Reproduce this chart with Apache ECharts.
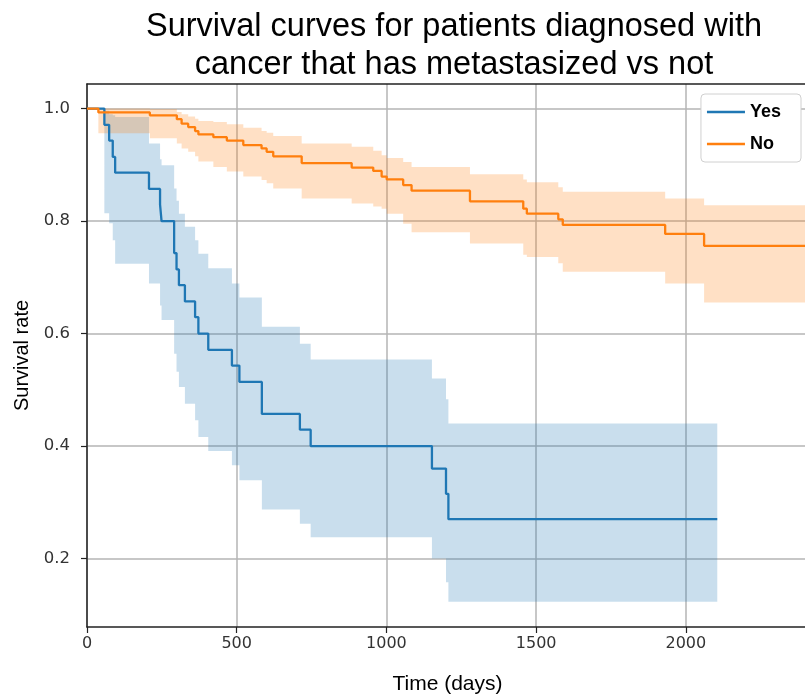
<!DOCTYPE html>
<html>
<head>
<meta charset="utf-8">
<script src="https://cdn.jsdelivr.net/npm/echarts@6/dist/echarts.min.js"></script>
<style>
  html, body { margin: 0; padding: 0; background: #ffffff; }
  #chart { width: 805px; height: 694px; }
</style>
</head>
<body>
<div id="chart"></div>
<script>
// Kaplan-Meier estimates (days, survival probability) with 95% confidence bounds

// Metastasized: Yes
const yesTime  = [0, 58, 74, 86, 94, 207, 244, 249, 291, 299, 307, 327, 361, 372, 405, 484, 509, 584, 711, 747, 1152, 1199, 1207, 2105];
const yesSurv  = [1.0, 0.971, 0.943, 0.914, 0.886, 0.857, 0.829, 0.8, 0.743, 0.714, 0.686, 0.657, 0.629, 0.6, 0.571, 0.543, 0.514, 0.457, 0.429, 0.4, 0.36, 0.315, 0.27, 0.27];
const yesUpper = [1.0, 0.996, 0.99, 0.988, 0.985, 0.938, 0.91, 0.899, 0.858, 0.836, 0.813, 0.79, 0.766, 0.742, 0.716, 0.689, 0.664, 0.612, 0.582, 0.554, 0.52, 0.483, 0.44, 0.44];
const yesLower = [1.0, 0.814, 0.796, 0.766, 0.724, 0.689, 0.65, 0.624, 0.564, 0.532, 0.505, 0.475, 0.446, 0.416, 0.391, 0.366, 0.339, 0.287, 0.262, 0.238, 0.2, 0.158, 0.123, 0.123];

// Metastasized: No
const noTime  = [0, 38, 210, 300, 316, 338, 361, 372, 422, 467, 522, 583, 600, 622, 717, 884, 956, 984, 1001, 1056, 1084, 1279, 1457, 1469, 1574, 1589, 1931, 2061, 2408];
const noSurv  = [1.0, 0.993, 0.988, 0.981, 0.973, 0.967, 0.96, 0.954, 0.949, 0.943, 0.935, 0.929, 0.923, 0.915, 0.903, 0.895, 0.889, 0.879, 0.874, 0.864, 0.854, 0.835, 0.822, 0.813, 0.803, 0.793, 0.777, 0.756, 0.756];
const noUpper = [1.0, 1.0, 0.999, 0.994, 0.99, 0.986, 0.982, 0.978, 0.976, 0.972, 0.966, 0.96, 0.957, 0.951, 0.938, 0.932, 0.925, 0.917, 0.912, 0.905, 0.896, 0.883, 0.874, 0.869, 0.86, 0.852, 0.84, 0.828, 0.828];
const noLower = [1.0, 0.956, 0.947, 0.938, 0.929, 0.923, 0.915, 0.906, 0.896, 0.888, 0.879, 0.873, 0.867, 0.858, 0.84, 0.831, 0.826, 0.822, 0.813, 0.795, 0.78, 0.76, 0.74, 0.736, 0.725, 0.71, 0.689, 0.655, 0.655];

// Axis ticks
const xTicks = [0, 500, 1000, 1500, 2000];
const yTicks = [0.2, 0.4, 0.6, 0.8, 1.0];

const X_MIN = 0, X_MAX = 2408;
const Y_MIN = 0.0783, Y_MAX = 1.0436;

const BLUE = '#1f77b4';
const ORANGE = '#ff7f0e';

// Step-shaped confidence band drawn as one polygon through the axis scales
function bandSeries(name, time, lower, upper, fill) {
  const rows = time.map((t, i) => [t, lower[i], upper[i]]);
  return {
    type: 'custom',
    name: name,
    data: rows,
    encode: { x: 0, y: [1, 2] },
    clip: true,
    silent: true,
    z: 1,
    renderItem: function (params, api) {
      if (params.dataIndex !== 0) return null;
      const pts = [];
      for (let i = 0; i < rows.length; i++) {
        if (i > 0) pts.push(api.coord([rows[i][0], rows[i - 1][2]]));
        pts.push(api.coord([rows[i][0], rows[i][2]]));
      }
      for (let i = rows.length - 1; i >= 0; i--) {
        pts.push(api.coord([rows[i][0], rows[i][1]]));
        if (i > 0) pts.push(api.coord([rows[i][0], rows[i - 1][1]]));
      }
      return {
        type: 'polygon',
        shape: { points: pts },
        style: { fill: fill, stroke: null }
      };
    }
  };
}

function stepLine(name, time, surv, color, z) {
  return {
    type: 'line',
    name: name,
    data: time.map((t, i) => [t, surv[i]]),
    step: 'end',
    symbol: 'none',
    silent: true,
    z: z,
    lineStyle: { color: color, width: 2.3 },
    itemStyle: { color: color }
  };
}

const chart = echarts.init(document.getElementById('chart'), null, { renderer: 'canvas' });

chart.setOption({
  animation: false,
  backgroundColor: '#ffffff',
  title: {
    text: 'Survival curves for patients diagnosed with\ncancer that has metastasized vs not',
    left: 449,
    top: 3,
    textAlign: 'center',
    textStyle: {
      fontFamily: 'Liberation Sans, Arial, sans-serif',
      fontSize: 32.5,
      fontWeight: 'normal',
      color: '#000000',
      lineHeight: 38
    }
  },
  legend: {
    data: ['Yes', 'No'],
    orient: 'vertical',
    right: 4,
    top: 94,
    icon: 'rect',
    itemWidth: 38,
    itemHeight: 2.5,
    itemGap: 12,
    padding: [8, 20, 8, 6],
    backgroundColor: '#ffffff',
    borderColor: '#d0d0d0',
    borderWidth: 1,
    borderRadius: 4,
    textStyle: {
      fontFamily: 'Liberation Sans, Arial, sans-serif',
      fontSize: 18,
      fontWeight: 'bold',
      color: '#000000',
      lineHeight: 20
    }
  },
  grid: { left: 87, right: -3, top: 84, bottom: 67, containLabel: false, outerBoundsMode: 'none' },
  xAxis: [{
    type: 'value',
    min: X_MIN,
    max: X_MAX,
    position: 'bottom',
    name: 'Time (days)',
    nameLocation: 'middle',
    nameGap: 47,
    nameTextStyle: { fontFamily: 'Liberation Sans, Arial, sans-serif', fontSize: 21, color: '#000000' },
    axisLine: { show: true, onZero: false, lineStyle: { color: '#222222', width: 1.5 } },
    axisTick: { show: true, length: 6, customValues: xTicks, lineStyle: { color: '#222222', width: 1.2 } },
    axisLabel: {
      customValues: xTicks,
      margin: 9,
      color: '#333333',
      fontFamily: 'DejaVu Sans',
      fontSize: 16,
      formatter: v => String(v)
    },
    splitLine: { show: true, lineStyle: { color: '#b4b4b4', width: 1.5 } }
  }, {
    type: 'value',
    min: X_MIN,
    max: X_MAX,
    position: 'top',
    axisLine: { show: true, onZero: false, lineStyle: { color: '#222222', width: 1.5 } },
    axisTick: { show: false },
    axisLabel: { show: false },
    splitLine: { show: false }
  }],
  yAxis: {
    type: 'value',
    min: Y_MIN,
    max: Y_MAX,
    name: 'Survival rate',
    nameLocation: 'middle',
    nameGap: 55,
    nameTextStyle: { fontFamily: 'Liberation Sans, Arial, sans-serif', fontSize: 20, color: '#000000' },
    axisLine: { show: true, onZero: false, lineStyle: { color: '#222222', width: 1.5 } },
    axisTick: { show: true, length: 6, customValues: yTicks, lineStyle: { color: '#222222', width: 1.2 } },
    axisLabel: {
      customValues: yTicks,
      margin: 17,
      color: '#333333',
      fontFamily: 'DejaVu Sans',
      fontSize: 16.5,
      formatter: v => Number(v).toFixed(1)
    },
    splitLine: { show: true, lineStyle: { color: '#b4b4b4', width: 1.5 } }
  },
  series: [
    bandSeries('Yes CI', yesTime, yesLower, yesUpper, 'rgba(31,119,180,0.24)'),
    bandSeries('No CI', noTime, noLower, noUpper, 'rgba(255,127,14,0.24)'),
    stepLine('Yes', yesTime, yesSurv, BLUE, 3),
    stepLine('No', noTime, noSurv, ORANGE, 4)
  ]
});
</script>
</body>
</html>
